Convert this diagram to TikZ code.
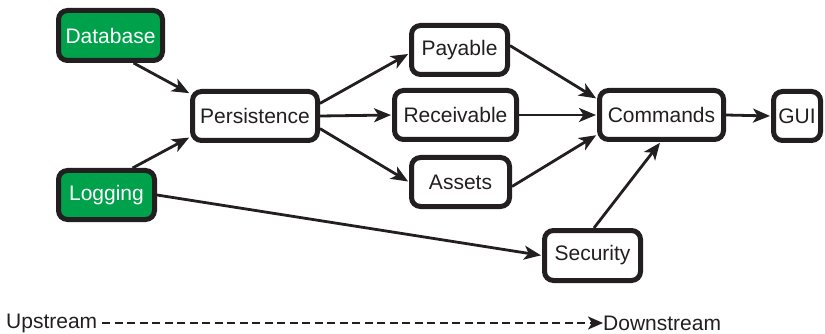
\documentclass[tikz,border=0pt]{standalone}
\usepackage{fontspec}
\setmainfont{Liberation Sans}
\usetikzlibrary{arrows.meta}
\definecolor{boxgreen}{RGB}{0,161,75}
\definecolor{ink}{RGB}{35,31,32}
\tikzset{
  modbox/.style={draw=ink, line width=5pt, rounded corners=9pt, fill=white,
    minimum height=49pt, inner xsep=2pt, inner ysep=0pt, text=ink,
    font=\fontsize{21}{24}\selectfont},
  greenbox/.style={modbox, fill=boxgreen, text=white},
  conn/.style={draw=ink, line width=2.8pt, -{Stealth[length=17pt,width=14pt,inset=4.5pt]}, shorten >=1pt},
  label/.style={inner sep=0pt, text=ink, font=\fontsize{21}{24}\selectfont},
}
\begin{document}
\begin{tikzpicture}[x=1pt,y=-1pt]
\useasboundingbox (0,0) rectangle (825,334);
\node[greenbox, minimum width=104pt, minimum height=50pt] (db) at (110.5,35.5) {Database};
\node[modbox, minimum width=125pt] (pers) at (255,116) {Persistence};
\node[greenbox, minimum width=96pt] (log) at (106.5,195) {Logging};
\node[modbox, minimum width=96pt] (pay) at (459.5,50) {Payable};
\node[modbox, minimum width=122pt] (rec) at (455.5,115) {Receivable};
\node[modbox, minimum width=98pt] (ass) at (460.5,182) {Assets};
\node[modbox, minimum width=124pt] (cmd) at (661.5,115) {Commands};
\node[modbox, minimum width=47pt] (gui) at (797,116) {GUI};
\node[modbox, minimum width=96pt, minimum height=50pt] (sec) at (592.5,255.5) {Security};

\draw[conn] (db.-50) -- (pers.161);
\draw[conn] (log.46) -- (pers.198);
\draw[conn] (log.east) -- (sec.west);
\draw[conn] (pers.11) -- (pay.184);
\draw[conn] (pers.east) -- (rec.west);
\draw[conn] (pers.-11) -- (ass.west);
\draw[conn] (pay.5) -- (cmd.166);
\draw[conn] (rec.east) -- (cmd.west);
\draw[conn] (ass.-5) -- (cmd.197);
\draw[conn] (sec.87) -- (cmd.-92);
\draw[conn] (cmd.east) -- (gui.west);

\node[label, anchor=west] (up) at (6,323) {Upstream};
\node[label, anchor=west] (down) at (603,323) {Downstream};
\draw[draw=ink, line width=2.5pt, dash pattern=on 8pt off 4.5pt,
  -{Stealth[length=15pt,width=13pt,inset=4pt]}] ([xshift=5pt]up.east) -- (down.west);
\end{tikzpicture}
\end{document}
